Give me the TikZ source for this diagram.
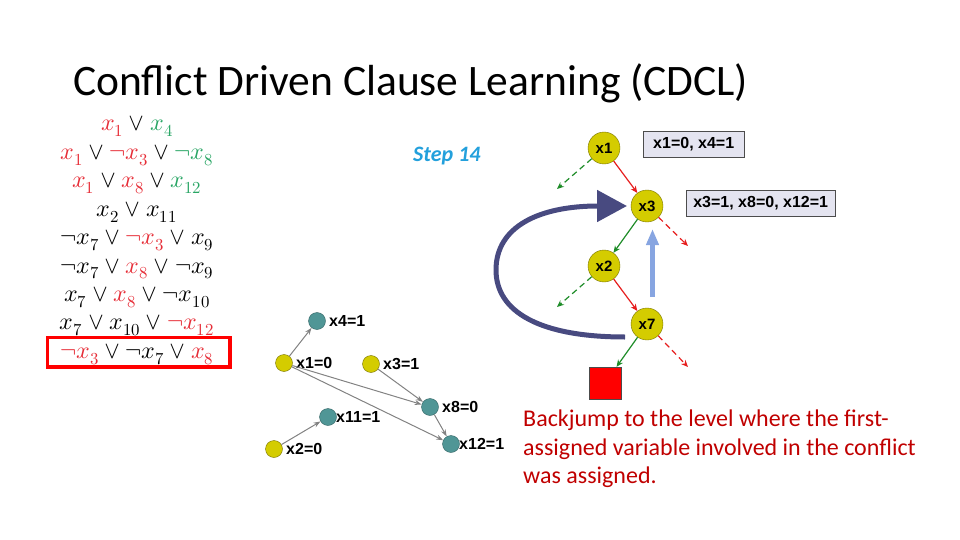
\documentclass[tikz,border=0pt]{standalone}
\usepackage{amsmath}
\usepackage{fontspec}
\usepackage{unicode-math}
\setmainfont{Carlito}
\setmathfont{Latin Modern Math}
\newfontfamily\arialfont{Liberation Sans}
\usetikzlibrary{arrows.meta, positioning}

\definecolor{litred}{RGB}{230,45,55}
\definecolor{litgreen}{RGB}{40,165,100}
\definecolor{nodeyellow}{RGB}{212,204,0}
\definecolor{nodeedge}{RGB}{120,115,0}
\definecolor{nodeteal}{RGB}{80,150,150}
\definecolor{tealedge}{RGB}{50,100,100}
\definecolor{boxfill}{RGB}{228,228,240}
\definecolor{jumpblue}{RGB}{72,74,128}
\definecolor{hintblue}{RGB}{135,165,225}
\definecolor{stepblue}{RGB}{35,160,220}
\definecolor{notered}{RGB}{192,0,0}
\definecolor{edgered}{RGB}{230,30,30}
\definecolor{edgegreen}{RGB}{30,140,40}
\definecolor{edgegray}{RGB}{130,130,130}

\newcommand{\rlit}[1]{\textcolor{litred}{#1}}
\newcommand{\glit}[1]{\textcolor{litgreen}{#1}}

\begin{document}
\begin{tikzpicture}[x=1pt, y=-1pt,
    clause/.style={anchor=base, inner sep=0pt, font=\fontsize{24}{28}\selectfont},
    dnode/.style={circle, draw=nodeedge, fill=nodeyellow, minimum size=32pt, inner sep=0pt,
      font=\arialfont\bfseries\fontsize{15}{18}\selectfont},
    assign/.style={draw=black!70, fill=boxfill, minimum height=26pt, inner sep=0pt,
      font=\arialfont\bfseries\fontsize{16}{18}\selectfont},
    ynode/.style={circle, draw=nodeedge, fill=nodeyellow, minimum size=17pt, inner sep=0pt},
    gnode/.style={circle, draw=tealedge, fill=nodeteal, minimum size=17pt, inner sep=0pt},
    glabel/.style={font=\arialfont\bfseries\fontsize{16}{18}\selectfont},
    treered/.style={edgered, line width=1.2pt, -{Stealth[length=7pt,width=6pt]}},
    treegreen/.style={edgegreen, line width=1.2pt, -{Stealth[length=7pt,width=6pt]}},
    guess/.style={dash pattern=on 6pt off 4pt},
    gedge/.style={edgegray, line width=1pt, -{Stealth[length=7pt,width=5pt]}},
  ]
  \useasboundingbox (0,0) rectangle (960,540);

  % titel
  \node[anchor=base west, inner sep=0pt, font=\fontsize{43.5}{48}\selectfont] (title) at (73,96)
    {Conflict Driven Clause Learning (CDCL)};

  % clauses
  \foreach \cl [count=\i] in {
      {$\rlit{x_1}\vee\glit{x_4}$},
      {$\rlit{x_1}\vee\rlit{\neg x_3}\vee\glit{\neg x_8}$},
      {$\rlit{x_1}\vee\rlit{x_8}\vee\glit{x_{12}}$},
      {$x_2\vee x_{11}$},
      {$\neg x_7\vee\rlit{\neg x_3}\vee x_9$},
      {$\neg x_7\vee\rlit{x_8}\vee\neg x_9$},
      {$x_7\vee\rlit{x_8}\vee\neg x_{10}$},
      {$x_7\vee x_{10}\vee\rlit{\neg x_{12}}$},
      {$\rlit{\neg x_3}\vee\neg x_7\vee\rlit{x_8}$}}
    \node[clause] (c\i) at (137,{131+28.4*(\i-1)}) {\cl};
  % conflict clause
  \draw[red, line width=3.5pt] (47.5,337.5) rectangle (230,367);

  \node[anchor=base west, inner sep=0pt, text=stepblue,
    font=\bfseries\itshape\fontsize{22}{26}\selectfont] (step) at (413,161) {Step 14};

  % beslissingsboom
  \node[dnode] (t1) at (604,148) {x1};
  \node[dnode] (t3) at (647,206) {x3};
  \node[dnode] (t2) at (604,266) {x2};
  \node[dnode] (t7) at (647,324) {x7};
  \node[draw=black!70, fill=red, minimum size=32pt, inner sep=0pt] (bot) at (605,383) {};
  \coordinate (d1) at (557,189);
  \coordinate (d3) at (688,246);
  \coordinate (d2) at (557,307);
  \coordinate (d7) at (688,367);

  \draw[treered] (t1) -- (t3);
  \draw[treegreen, guess] (t1) -- (d1);
  \draw[treegreen] (t3) -- (t2);
  \draw[treered, guess] (t3) -- (d3);
  \draw[treered] (t2) -- (t7);
  \draw[treegreen, guess] (t2) -- (d2);
  \draw[treegreen] (t7) -- (bot);
  \draw[treered, guess] (t7) -- (d7);

  \node[assign, minimum width=101pt, anchor=west] (a1) at (643,144) {x1=0, x4=1};
  \node[assign, minimum width=149pt, anchor=west] (a3) at (686,203) {x3=1, x8=0, x12=1};

  % terugsprong
  \coordinate (j0) at (625,337);
  \coordinate (j1) at (627,206);
  \draw[jumpblue, line width=5pt, -{Triangle[length=30pt,width=31pt]}]
    (j0) .. controls (540,337) and (496,312) .. (496,270)
    .. controls (496,226) and (540,206) .. (j1);
  \coordinate (h0) at (652.5,297);
  \coordinate (h1) at (652.5,229);
  \draw[hintblue, line width=5pt, -{Triangle[length=16pt,width=12pt]}] (h0) -- (h1);

  % implicatiegraaf
  \node[gnode, label={[glabel]right:x4=1}] (g4) at (317,321) {};
  \node[ynode, label={[glabel]right:x1=0}] (g1) at (284,363) {};
  \node[ynode, label={[glabel]right:x3=1}] (g3) at (371,364) {};
  \node[gnode, label={[glabel]right:x8=0}] (g8) at (430,407) {};
  \node[gnode, label={[glabel, label distance=-4pt]right:x11=1}] (g11) at (328,417) {};
  \node[ynode, label={[glabel]right:x2=0}] (g2) at (274,449) {};
  \node[gnode, label={[glabel, label distance=-4pt]right:x12=1}] (g12) at (451,444) {};
  \draw[gedge] (g1) -- (g4);
  \draw[gedge] (g1) -- (g8);
  \draw[gedge] (g1) -- (g12);
  \draw[gedge] (g3) -- (g8);
  \draw[gedge] (g8) -- (g12);
  \draw[gedge] (g2) -- (g11);

  \node[anchor=north west, inner sep=0pt, align=left, text=notered,
    font=\fontsize{24}{28.5}\selectfont] (note) at (523,410)
    {Backjump to the level where the first-\\assigned variable involved in the conflict\\was assigned.};
\end{tikzpicture}
\end{document}
